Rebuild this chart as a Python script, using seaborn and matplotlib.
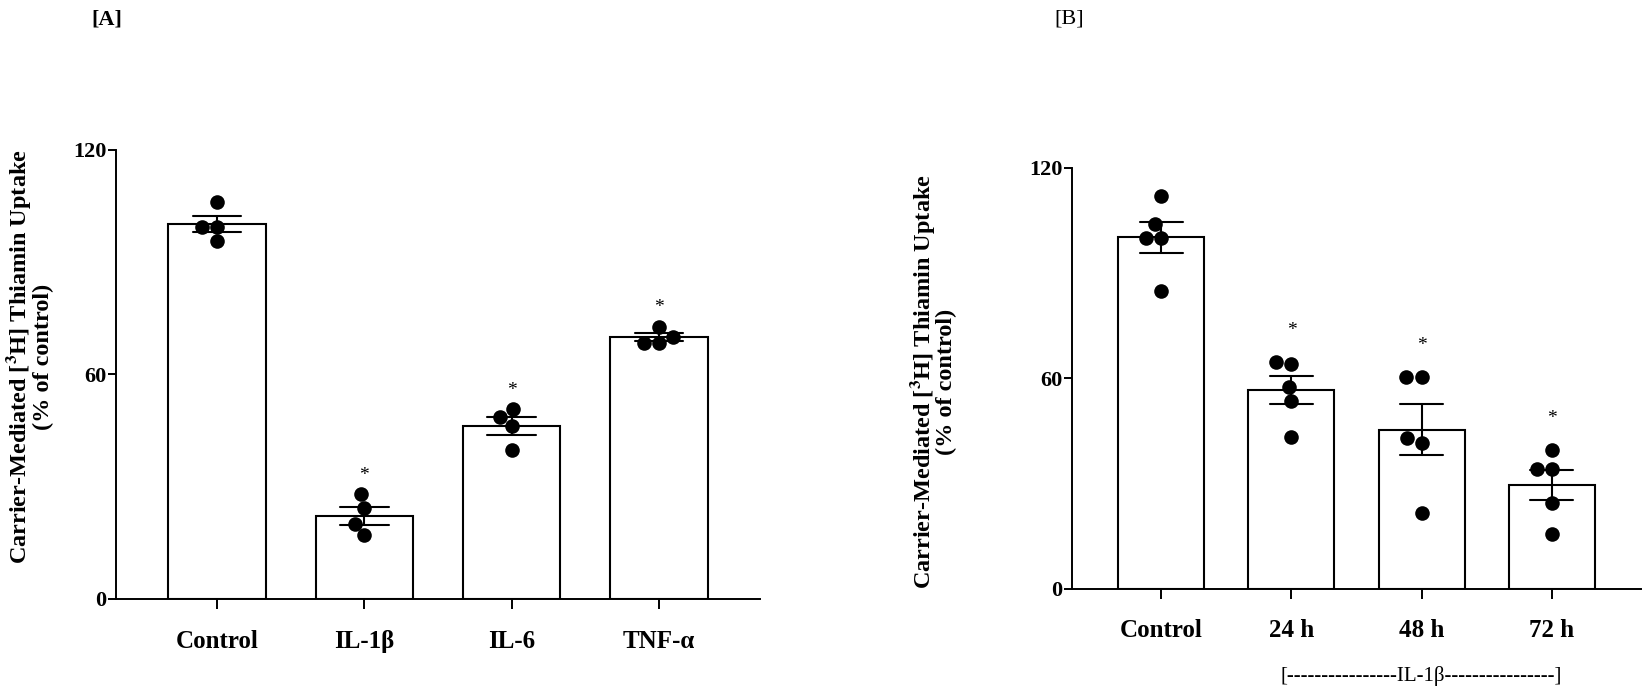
import pandas as pd
import matplotlib
matplotlib.use("Agg")
import matplotlib.pyplot as plt
import matplotlib.transforms as mtransforms
import seaborn as sns

# Panel A: cytokine treatment (individual replicates, % of control)
groups_a = ["Control", "IL-1β", "IL-6", "TNF-α"]
control_a = [106.2, 99.5, 99.5, 95.6]
il1b_a = [28.0, 24.2, 20.0, 17.0]
il6_a = [50.7, 48.7, 46.3, 39.7]
tnfa_a = [72.8, 70.0, 68.5, 68.5]

# Panel B: IL-1β time course
groups_b = ["Control", "24 h", "48 h", "72 h"]
control_b = [111.9, 103.9, 100.1, 100.1, 84.9]
h24_b = [64.7, 64.1, 57.6, 53.5, 43.2]
h48_b = [60.4, 60.4, 42.9, 41.4, 21.5]
h72_b = [39.5, 34.1, 34.1, 24.3, 15.6]

signif_a = ["IL-1β", "IL-6", "TNF-α"]
signif_b = ["24 h", "48 h", "72 h"]
yticks = [0, 60, 120]

df_a = pd.DataFrame({
    "group": [g for g, v in zip(groups_a, [control_a, il1b_a, il6_a, tnfa_a]) for _ in v],
    "value": control_a + il1b_a + il6_a + tnfa_a,
})
df_b = pd.DataFrame({
    "group": [g for g, v in zip(groups_b, [control_b, h24_b, h48_b, h72_b]) for _ in v],
    "value": control_b + h24_b + h48_b + h72_b,
})

sns.set_style("ticks")
plt.rcParams["font.family"] = ["Liberation Serif", "DejaVu Serif"]
plt.rcParams["mathtext.fontset"] = "stix"
for key in ["text.color", "axes.labelcolor", "xtick.color", "ytick.color", "axes.edgecolor"]:
    plt.rcParams[key] = "black"

fig = plt.figure(figsize=(16.48, 6.88), dpi=100)
ax_a = fig.add_axes([0.0704, 0.1294, 0.3908, 0.6526])
ax_b = fig.add_axes([0.6505, 0.1443, 0.3453, 0.6119])


def draw_panel(ax, df, order, stars, star_off):
    sns.barplot(data=df, x="group", y="value", order=order, errorbar="se",
                capsize=0.33, width=0.66, color="white", saturation=1,
                edgecolor="black", linewidth=1.5,
                err_kws={"color": "black", "linewidth": 1.5}, ax=ax)
    sns.swarmplot(data=df, x="group", y="value", order=order, color="black",
                  size=10.5, ax=ax, zorder=4)
    for g in stars:
        i = order.index(g)
        top = df.loc[df["group"] == g, "value"].max()
        ax.text(i, top + star_off, "*", ha="center", va="center", fontsize=14)
    ax.set_xlim(-0.685, len(order) - 1 + 0.685)
    ax.set_ylim(0, 120)
    ax.set_yticks(yticks)
    ax.set_xlabel("")
    ax.set_ylabel("")
    sns.despine(ax=ax)
    for s in ["left", "bottom"]:
        ax.spines[s].set_linewidth(1.4)
    ax.tick_params(axis="y", length=6, width=1.4, pad=1, labelsize=16)
    ax.tick_params(axis="x", length=7, width=1.4, pad=15, labelsize=18)
    for lab in ax.get_xticklabels() + ax.get_yticklabels():
        lab.set_fontweight("bold")


draw_panel(ax_a, df_a, groups_a, signif_a, 5)
draw_panel(ax_b, df_b, groups_b, signif_b, 9)

ylab = "Carrier-Mediated [$^{\\mathbf{3}}$H] Thiamin Uptake\n(% of control)"
fig.text(0.0176, 0.481, ylab, rotation=90, ha="center", va="center",
         multialignment="center", fontsize=17.5, fontweight="bold", linespacing=0.95)
fig.text(0.5658, 0.445, ylab, rotation=90, ha="center", va="center",
         multialignment="center", fontsize=17.5, fontweight="bold", linespacing=0.95)

fig.text(0.065, 0.972, "[A]", ha="center", va="center", fontsize=16, fontweight="bold")
fig.text(0.649, 0.972, "[B]", ha="center", va="center", fontsize=16)

# bracket under the IL-1β time points
trans = mtransforms.blended_transform_factory(ax_b.transData, fig.transFigure)
ax_b.text(2, 1 - 676 / 688, "[" + "-" * 16 + "IL-1β" + "-" * 16 + "]",
          transform=trans, ha="center", va="center", fontsize=15)

fig.savefig("out.png", dpi=100)
